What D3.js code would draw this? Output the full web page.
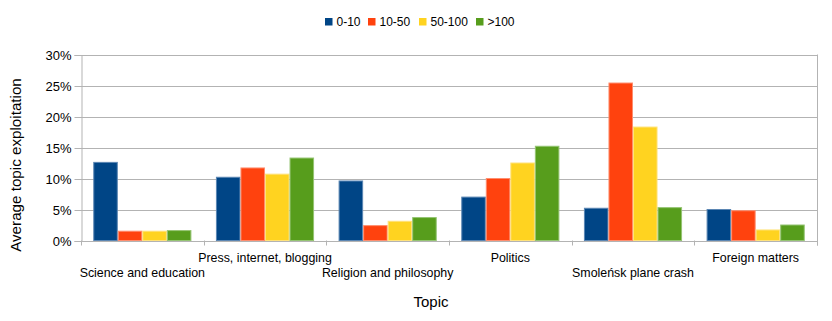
<!DOCTYPE html>
<html>
<head>
<meta charset="utf-8">
<script src="https://cdn.jsdelivr.net/npm/d3@7"></script>
<style>
  body { margin: 0; background: #fff; }
  text { font-family: "Liberation Sans", Arial, sans-serif; fill: #000; }
</style>
</head>
<body>
<svg id="chart" width="832" height="321"></svg>
<script>
var topics = ["Science and education", "Press, internet, blogging", "Religion and philosophy",
  "Politics", "Smoleńsk plane crash", "Foreign matters"];
var series = ["0-10", "10-50", "50-100", ">100"];
var colors = ["#004586", "#ff420e", "#ffd320", "#579d1c"];
var strokes = ["#5b86b3", "#ff8d6e", "#ffe27a", "#94c472"];
// values in percent, one array per series
var v0_10 = [12.6, 10.2, 9.6, 7.0, 5.2, 5.0];
var v10_50 = [1.5, 11.7, 2.4, 10.0, 25.4, 4.8];
var v50_100 = [1.5, 10.7, 3.1, 12.5, 18.3, 1.7];
var v100 = [1.6, 13.3, 3.7, 15.2, 5.3, 2.5];
var yTicks = [0, 5, 10, 15, 20, 25, 30];

var values = [v0_10, v10_50, v50_100, v100];

var svg = d3.select("#chart");
var plotLeft = 81, plotRight = 817, plotTop = 54.5, plotBottom = 240.5;

var x = d3.scaleBand().domain(topics).range([plotLeft, plotRight]).paddingInner(0).paddingOuter(0);
var xs = d3.scaleBand().domain(series).range([0, x.bandwidth()]).paddingOuter(0.5).paddingInner(0);
var y = d3.scaleLinear().domain([0, 30]).range([plotBottom, plotTop]);

// gridlines
svg.append("g").selectAll("line").data(yTicks).join("line")
  .attr("x1", plotLeft).attr("x2", plotRight)
  .attr("y1", function(d) { return Math.round(y(d)) + 0.5; })
  .attr("y2", function(d) { return Math.round(y(d)) + 0.5; })
  .attr("stroke", "#b3b3b3").attr("stroke-width", 1);

// y axis
var yAxis = d3.axisLeft(y).tickValues(yTicks).tickSize(7).tickPadding(3)
  .tickFormat(function(d) { return d + "%"; });
var gy = svg.append("g").attr("transform", "translate(" + (plotLeft + 0.5) + ",0.5)").call(yAxis);
gy.select(".domain").attr("stroke", "#b3b3b3");
gy.selectAll(".tick line").attr("stroke", "#b3b3b3");
gy.selectAll(".tick text").attr("font-size", "13px").attr("fill", "#000")
  .style("font-family", "Liberation Sans, Arial, sans-serif");

// right border
svg.append("line").attr("x1", plotRight + 0.5).attr("x2", plotRight + 0.5)
  .attr("y1", plotTop).attr("y2", plotBottom + 5).attr("stroke", "#b3b3b3");

// x ticks at band edges
var edges = topics.map(function(t) { return x(t); }).concat([plotRight]);
svg.append("g").selectAll("line").data(edges).join("line")
  .attr("x1", function(d) { return Math.round(d) + 0.5; })
  .attr("x2", function(d) { return Math.round(d) + 0.5; })
  .attr("y1", plotBottom).attr("y2", plotBottom + 5).attr("stroke", "#b3b3b3");

// bars
var groups = svg.append("g").selectAll("g").data(series).join("g");
groups.each(function(s, si) {
  d3.select(this).selectAll("rect").data(values[si]).join("rect")
    .attr("x", function(d, i) { return x(topics[i]) + xs(s) + 0.5; })
    .attr("y", function(d) { return y(d); })
    .attr("width", xs.bandwidth() - 1)
    .attr("height", function(d) { return plotBottom - y(d); })
    .attr("fill", colors[si])
    .attr("stroke", strokes[si]).attr("stroke-width", 1);
});

// category labels, staggered
svg.append("g").selectAll("text").data(topics).join("text")
  .attr("x", function(d) { return x(d) + x.bandwidth() / 2; })
  .attr("y", function(d, i) { return i % 2 === 0 ? 277 : 262; })
  .attr("text-anchor", "middle").attr("font-size", "12.4px")
  .text(function(d) { return d; });

// axis titles
svg.append("text").attr("x", 431).attr("y", 307)
  .attr("text-anchor", "middle").attr("font-size", "15px").text("Topic");
svg.append("text").attr("transform", "translate(21,165) rotate(-90)")
  .attr("text-anchor", "middle").attr("font-size", "15.2px").text("Average topic exploitation");

// legend
var legendX = [325, 368, 419, 476];
var legend = svg.append("g").selectAll("g").data(series).join("g")
  .attr("transform", function(d, i) { return "translate(" + legendX[i] + ",18)"; });
legend.append("rect").attr("width", 7.5).attr("height", 7.5)
  .attr("fill", function(d, i) { return colors[i]; });
legend.append("text").attr("x", 11.5).attr("y", 7.5).attr("font-size", "12px")
  .text(function(d) { return d; });
</script>
</body>
</html>
